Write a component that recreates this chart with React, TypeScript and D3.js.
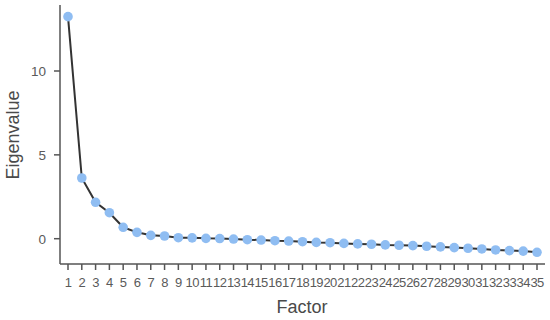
import * as d3 from "d3";

const factors = d3.range(1, 36);
const eigenvalues = [
  13.24, 3.62, 2.17, 1.55, 0.68, 0.38, 0.2, 0.16, 0.06, 0.05,
  0.02, 0.01, -0.02, -0.06, -0.08, -0.12, -0.14, -0.18, -0.22, -0.24,
  -0.28, -0.31, -0.33, -0.37, -0.39, -0.41, -0.45, -0.49, -0.53, -0.57,
  -0.61, -0.67, -0.71, -0.74, -0.81,
];
const yTicks = [0, 5, 10];

const App = () => {
  const width = 550,
    height = 320;
  const axisX = 60,
    axisBottom = 264,
    axisTop = 5;

  const x = d3.scaleLinear([1, 35], [68, 537]);
  const y = d3.scaleLinear([0, 10], [238.7, 71]);
  const line = d3.line<number>((d, i) => x(factors[i]), (d) => y(d));

  const labelColor = "#5a5a5a";
  const axisColor = "#555";

  return (
    <svg
      width={width}
      height={height}
      style={{ position: "absolute", left: 0, top: 0 }}
      fontFamily="'Liberation Sans', Arial, sans-serif"
    >
      <rect width={width} height={height} fill="white" />
      {/* axes */}
      <line x1={axisX} x2={axisX} y1={axisTop} y2={axisBottom} stroke={axisColor} strokeWidth={1.5} />
      <line x1={axisX} x2={545} y1={axisBottom} y2={axisBottom} stroke={axisColor} strokeWidth={1.5} />
      {yTicks.map((t) => (
        <g key={t} transform={`translate(0, ${y(t)})`}>
          <line x1={axisX - 6} x2={axisX} stroke={axisColor} strokeWidth={1.5} />
          <text x={46} dy="0.36em" textAnchor="end" fontSize={13.5} fill={labelColor}>
            {t}
          </text>
        </g>
      ))}
      {factors.map((f) => (
        <g key={f} transform={`translate(${x(f)}, 0)`}>
          <line y1={axisBottom} y2={axisBottom + 6} stroke={axisColor} strokeWidth={1.5} />
          <text y={287} textAnchor="middle" fontSize={13} letterSpacing={-0.6} fill={labelColor}>
            {f}
          </text>
        </g>
      ))}
      <text x={302} y={313} textAnchor="middle" fontSize={18} fill="#4a4a4a">
        Factor
      </text>
      <text
        transform={`translate(19, 135) rotate(-90)`}
        textAnchor="middle"
        fontSize={18}
        fill="#4a4a4a"
      >
        Eigenvalue
      </text>
      <path d={line(eigenvalues) ?? ""} fill="none" stroke="#333" strokeWidth={2} />
      <g fill="#8fbdf2">
        {eigenvalues.map((v, i) => (
          <circle key={i} cx={x(factors[i])} cy={y(v)} r={4.8} />
        ))}
      </g>
    </svg>
  );
};

export default App;
